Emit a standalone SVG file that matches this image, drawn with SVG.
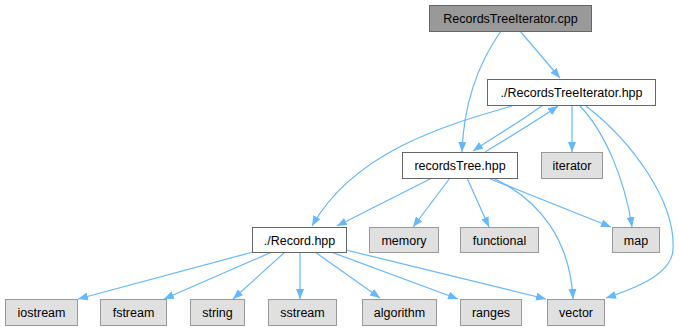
<svg xmlns="http://www.w3.org/2000/svg" width="679" height="331" viewBox="0 0 679 331">
  <style>
    .edge { fill: none; stroke: #63b8ff; stroke-width: 1.2; }
    .lbl { font-family: "Liberation Sans", Arial, sans-serif; font-size: 12.5px; fill: #000; text-anchor: middle; }
    .root rect { fill: #999999; stroke: #666666; stroke-width: 1; }
    .local rect { fill: #ffffff; stroke: #666666; stroke-width: 1; }
    .sys rect { fill: #e0e0e0; stroke: #999999; stroke-width: 1; }
  </style>
  <defs>
    <marker id="arrow" viewBox="0 0 10 8" refX="10" refY="4" markerWidth="10" markerHeight="8" markerUnits="userSpaceOnUse" orient="auto">
      <path d="M0,0 L10,4 L0,8 z" fill="#63b8ff"/>
    </marker>
  </defs>
  <rect width="679" height="331" fill="#ffffff"/>

  <!-- include edges -->
  <g id="edges">
    <path class="edge" marker-end="url(#arrow)" d="M520,31 L560,78"/>
    <path class="edge" marker-end="url(#arrow)" d="M501,31 C482,58 464,95 462,152"/>
    <path class="edge" marker-end="url(#arrow)" d="M543,105 C520,122 492,138 473,151"/>
    <path class="edge" marker-end="url(#arrow)" d="M485,152 C508,138 538,120 558,106"/>
    <path class="edge" marker-end="url(#arrow)" d="M512,106 C450,124 355,150 312,226"/>
    <path class="edge" marker-end="url(#arrow)" d="M572,105 L572,152"/>
    <path class="edge" marker-end="url(#arrow)" d="M580,106 C605,132 625,180 632,227"/>
    <path class="edge" marker-end="url(#arrow)" d="M586,106 C630,140 676,200 673,250 C671,276 630,290 606,298"/>
    <path class="edge" marker-end="url(#arrow)" d="M432,178 L337,226"/>
    <path class="edge" marker-end="url(#arrow)" d="M450,178 L413,227"/>
    <path class="edge" marker-end="url(#arrow)" d="M467,178 L489,227"/>
    <path class="edge" marker-end="url(#arrow)" d="M488,178 L611,227"/>
    <path class="edge" marker-end="url(#arrow)" d="M493,178 C540,200 570,240 573,299"/>
    <path class="edge" marker-end="url(#arrow)" d="M253,252 L78,299"/>
    <path class="edge" marker-end="url(#arrow)" d="M272,252 L164,299"/>
    <path class="edge" marker-end="url(#arrow)" d="M285,252 L233,299"/>
    <path class="edge" marker-end="url(#arrow)" d="M300,252 L300,299"/>
    <path class="edge" marker-end="url(#arrow)" d="M315,252 L380,298"/>
    <path class="edge" marker-end="url(#arrow)" d="M331,252 L458,299"/>
    <path class="edge" marker-end="url(#arrow)" d="M346,250 L546,299"/>
  </g>

  <g id="node-cpp" class="root"><rect x="429.5" y="5.5" width="162" height="26"/><text class="lbl" x="510.5" y="23">RecordsTreeIterator.cpp</text></g>
  <g id="node-rti-hpp" class="local"><rect x="487.5" y="79.5" width="168" height="26"/><text class="lbl" x="571.5" y="97">./RecordsTreeIterator.hpp</text></g>
  <g id="node-recordstree" class="local"><rect x="402.5" y="152.5" width="115" height="26"/><text class="lbl" x="460" y="170">recordsTree.hpp</text></g>
  <g id="node-iterator" class="sys"><rect x="541.5" y="152.5" width="61" height="26"/><text class="lbl" x="572" y="170">iterator</text></g>
  <g id="node-record" class="local"><rect x="252.5" y="227.5" width="94" height="25"/><text class="lbl" x="299.5" y="244.5">./Record.hpp</text></g>
  <g id="node-memory" class="sys"><rect x="369.5" y="227.5" width="69" height="25"/><text class="lbl" x="404" y="244.5">memory</text></g>
  <g id="node-functional" class="sys"><rect x="460.5" y="227.5" width="78" height="25"/><text class="lbl" x="499.5" y="244.5">functional</text></g>
  <g id="node-map" class="sys"><rect x="612.5" y="227.5" width="47" height="25"/><text class="lbl" x="636" y="244.5">map</text></g>
  <g id="node-iostream" class="sys"><rect x="5.5" y="299.5" width="72" height="26"/><text class="lbl" x="41.5" y="317">iostream</text></g>
  <g id="node-fstream" class="sys"><rect x="100.5" y="299.5" width="66" height="26"/><text class="lbl" x="133.5" y="317">fstream</text></g>
  <g id="node-string" class="sys"><rect x="190.5" y="299.5" width="54" height="26"/><text class="lbl" x="217.5" y="317">string</text></g>
  <g id="node-sstream" class="sys"><rect x="268.5" y="299.5" width="68" height="26"/><text class="lbl" x="302.5" y="317">sstream</text></g>
  <g id="node-algorithm" class="sys"><rect x="362.5" y="299.5" width="74" height="26"/><text class="lbl" x="399.5" y="317">algorithm</text></g>
  <g id="node-ranges" class="sys"><rect x="460.5" y="299.5" width="61" height="26"/><text class="lbl" x="491" y="317">ranges</text></g>
  <g id="node-vector" class="sys"><rect x="547.5" y="299.5" width="57" height="26"/><text class="lbl" x="576" y="317">vector</text></g>
</svg>
